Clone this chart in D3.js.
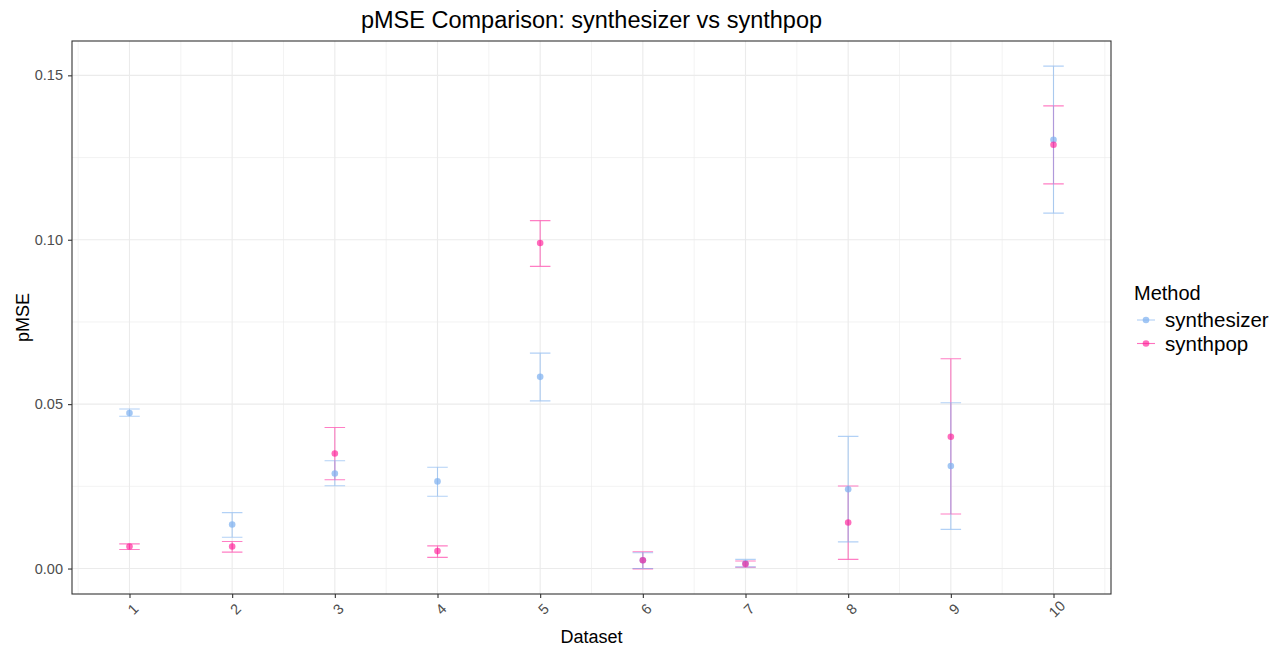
<!DOCTYPE html>
<html><head><meta charset="utf-8">
<script src="https://cdn.jsdelivr.net/npm/d3@7"></script>
<style>body{margin:0;background:#fff} text{font-family:Arial,"Liberation Sans",sans-serif}</style>
</head><body><svg id="c" width="1286" height="647"></svg>
<script>
const datasets = [1, 2, 3, 4, 5, 6, 7, 8, 9, 10];
const methods = ["synthesizer", "synthpop"];
const synthesizerMean  = [0.0473, 0.0134, 0.0289, 0.0265, 0.0583, 0.0025, 0.0016, 0.0241, 0.0312, 0.1304];
const synthesizerLower = [0.0463, 0.0095, 0.0252, 0.0220, 0.0510, 0.0000, 0.0005, 0.0081, 0.0119, 0.1081];
const synthesizerUpper = [0.0485, 0.0170, 0.0328, 0.0308, 0.0655, 0.0048, 0.0028, 0.0402, 0.0504, 0.1528];
const synthpopMean  = [0.0067, 0.0067, 0.0350, 0.0053, 0.0990, 0.0025, 0.0014, 0.0140, 0.0401, 0.1289];
const synthpopLower = [0.0058, 0.0050, 0.0270, 0.0034, 0.0919, -0.0001, 0.0004, 0.0028, 0.0166, 0.1170];
const synthpopUpper = [0.0075, 0.0082, 0.0429, 0.0069, 0.1058, 0.0051, 0.0023, 0.0251, 0.0638, 0.1407];
const yTicks = [0, 0.05, 0.10, 0.15];
const yMinor = [0.025, 0.075, 0.125];
const xMinor = [0.5, 1.5, 2.5, 3.5, 4.5, 5.5, 6.5, 7.5, 8.5, 9.5, 10.5];
const colors = {synthesizer: "#7FB2F0", synthpop: "#FF1493"};

const series = [
  {name: "synthesizer", mean: synthesizerMean, lo: synthesizerLower, hi: synthesizerUpper},
  {name: "synthpop", mean: synthpopMean, lo: synthpopLower, hi: synthpopUpper}
];

const svg = d3.select("#c");
const P = {l: 72, r: 1111, t: 41, b: 594};
const capW = 0.2;

const xMinD = d3.min(datasets) - capW / 2, xMaxD = d3.max(datasets) + capW / 2;
const xe = (xMaxD - xMinD) * 0.05;
const x = d3.scaleLinear().domain([xMinD - xe, xMaxD + xe]).range([P.l, P.r]);
const yMinD = d3.min(series, s => d3.min(s.lo)), yMaxD = d3.max(series, s => d3.max(s.hi));
const ye = (yMaxD - yMinD) * 0.05;
const y = d3.scaleLinear().domain([yMinD - ye, yMaxD + ye]).range([P.b, P.t]);

// grid
const g = svg.append("g");
g.selectAll(".ymin").data(yMinor).join("line")
  .attr("x1", P.l).attr("x2", P.r).attr("y1", d => y(d)).attr("y2", d => y(d))
  .attr("stroke", "#EBEBEB").attr("stroke-width", 0.6);
g.selectAll(".xmin").data(xMinor).join("line")
  .attr("y1", P.t).attr("y2", P.b).attr("x1", d => x(d)).attr("x2", d => x(d))
  .attr("stroke", "#EBEBEB").attr("stroke-width", 0.6);
g.selectAll(".ymaj").data(yTicks).join("line")
  .attr("x1", P.l).attr("x2", P.r).attr("y1", d => y(d)).attr("y2", d => y(d))
  .attr("stroke", "#EBEBEB").attr("stroke-width", 1.1);
g.selectAll(".xmaj").data(datasets).join("line")
  .attr("y1", P.t).attr("y2", P.b).attr("x1", d => x(d)).attr("x2", d => x(d))
  .attr("stroke", "#EBEBEB").attr("stroke-width", 1.1);

// error bars (synthpop first, synthesizer over it)
series.slice().reverse().forEach(s => {
  const eg = svg.append("g").attr("stroke", colors[s.name])
    .attr("stroke-opacity", s.name === "synthesizer" ? 0.6 : 0.55).attr("stroke-width", 1.1).attr("fill", "none");
  datasets.forEach((d, i) => {
    const path = d3.path();
    path.moveTo(x(d - capW / 2), y(s.hi[i])); path.lineTo(x(d + capW / 2), y(s.hi[i]));
    path.moveTo(x(d), y(s.hi[i])); path.lineTo(x(d), y(s.lo[i]));
    path.moveTo(x(d - capW / 2), y(s.lo[i])); path.lineTo(x(d + capW / 2), y(s.lo[i]));
    eg.append("path").attr("d", path.toString());
  });
});
// points
series.forEach(s => {
  svg.append("g").selectAll("circle").data(datasets).join("circle")
    .attr("cx", d => x(d)).attr("cy", (d, i) => y(s.mean[i])).attr("r", 3.3)
    .attr("fill", colors[s.name]).attr("fill-opacity", s.name === "synthesizer" ? 0.72 : 0.62);
});

// panel border
svg.append("rect").attr("x", P.l).attr("y", P.t).attr("width", P.r - P.l).attr("height", P.b - P.t)
  .attr("fill", "none").attr("stroke", "#333333").attr("stroke-width", 1.1);

// axes
const yAxis = svg.append("g").attr("transform", `translate(${P.l},0)`)
  .call(d3.axisLeft(y).tickValues(yTicks).tickFormat(d3.format(".2f")).tickSize(4).tickPadding(5));
const xAxis = svg.append("g").attr("transform", `translate(0,${P.b})`)
  .call(d3.axisBottom(x).tickValues(datasets).tickFormat(d3.format("d")).tickSize(4));
[yAxis, xAxis].forEach(a => {
  a.select(".domain").remove();
  a.selectAll(".tick line").attr("stroke", "#333333").attr("stroke-width", 1.1);
  a.selectAll(".tick text").attr("fill", "#4D4D4D").style("font-size", "14.5px").style("font-family", "Arial, 'Liberation Sans', sans-serif");
});
xAxis.selectAll(".tick text")
  .attr("y", 0).attr("dy", null)
  .attr("text-anchor", "middle").attr("dominant-baseline", "central")
  .attr("transform", "translate(3,15) rotate(-45)");

// titles
svg.append("text").attr("x", (P.l + P.r) / 2).attr("y", 28).attr("text-anchor", "middle")
  .style("font-size", "23.5px").attr("fill", "#000").text("pMSE Comparison: synthesizer vs synthpop");
svg.append("text").attr("x", (P.l + P.r) / 2).attr("y", 643).attr("text-anchor", "middle")
  .style("font-size", "18px").attr("fill", "#000").text("Dataset");
svg.append("text").attr("transform", `translate(29,${(P.t + P.b) / 2}) rotate(-90)`).attr("text-anchor", "middle")
  .style("font-size", "18px").attr("fill", "#000").text("pMSE");

// legend
const lg = svg.append("g");
lg.append("text").attr("x", 1134).attr("y", 300).style("font-size", "20px").attr("fill", "#000").text("Method");
series.forEach((s, i) => {
  const yy = 320 + i * 23.5;
  lg.append("line").attr("x1", 1137).attr("x2", 1155).attr("y1", yy).attr("y2", yy)
    .attr("stroke", colors[s.name]).attr("stroke-opacity", 0.6).attr("stroke-width", 1.1);
  lg.append("circle").attr("cx", 1146).attr("cy", yy).attr("r", 3.3)
    .attr("fill", colors[s.name]).attr("fill-opacity", s.name === "synthesizer" ? 0.72 : 0.62);
  lg.append("text").attr("x", 1165).attr("y", yy).attr("dy", "0.35em").style("font-size", "20.5px")
    .attr("fill", "#000").text(s.name);
});
</script></body></html>
